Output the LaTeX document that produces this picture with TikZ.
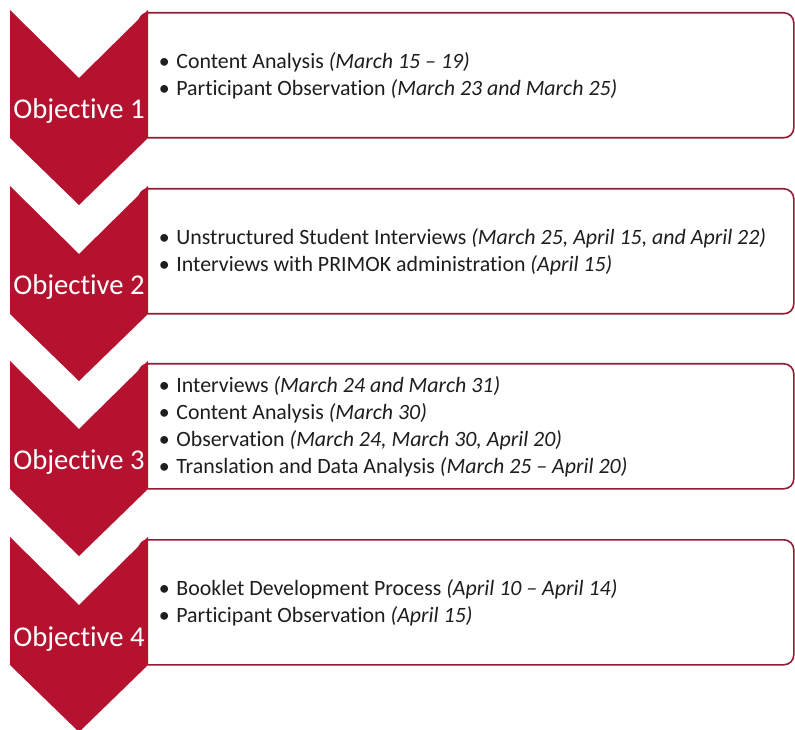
\documentclass[tikz,border=0pt]{standalone}
\usepackage{fontspec}
\setmainfont{Carlito}[Ligatures={TeX,NoCommon}]
\usepackage{xcolor}
\usetikzlibrary{positioning}
\definecolor{chevred}{RGB}{181,18,47}
\definecolor{boxline}{RGB}{145,30,55}
\definecolor{listtext}{RGB}{30,30,30}
\newcommand{\task}[2]{\textbullet\hspace{0.3em}#1 \textit{(#2)}}

\begin{document}
\begin{tikzpicture}[x=0.75pt,y=-0.75pt,
            chevron/.style={fill=chevred},
            box/.style={draw=boxline,line width=1.2pt,rounded corners=7.5pt,fill=white,
                minimum width=491.25pt,minimum height=93.75pt,anchor=north west,inner sep=0pt},
            objlabel/.style={text=white,font=\fontsize{21.5pt}{25pt}\selectfont,anchor=base},
            tasklist/.style={text=listtext,font=\fontsize{16.4pt}{20.25pt}\selectfont,
                align=left,inner sep=0pt,anchor=west}]
            \useasboundingbox (0,0) rectangle (795,730);

            % Objective 1
            \node[box] (box1) at (138,12) {};
            \fill[chevron] (10,10) -- (79,78) -- (148,10) -- (148,138) -- (79,205) -- (10,138) -- cycle;
            \node[objlabel] (obj1) at (79,119) {Objective 1};
            \node[tasklist, right=15.5pt of box1.west] (list1)
                {\task{Content Analysis}{March 15 -- 19}\\
                 \task{Participant Observation}{March 23 and March 25}};

            % Objective 2
            \node[box] (box2) at (138,188) {};
            \fill[chevron] (10,186) -- (79,254) -- (148,186) -- (148,314) -- (79,381) -- (10,314) -- cycle;
            \node[objlabel] (obj2) at (79,295) {Objective 2};
            \node[tasklist, right=15.5pt of box2.west] (list2)
                {\task{Unstructured Student Interviews}{March 25, April 15, and April 22}\\
                 \task{Interviews with PRIMOK administration}{April 15}};

            % Objective 3
            \node[box] (box3) at (138,363) {};
            \fill[chevron] (10,361) -- (79,429) -- (148,361) -- (148,489) -- (79,556) -- (10,489) -- cycle;
            \node[objlabel] (obj3) at (79,469) {Objective 3};
            \node[tasklist, right=15.5pt of box3.west] (list3)
                {\task{Interviews}{March 24 and March 31}\\
                 \task{Content Analysis}{March 30}\\
                 \task{Observation}{March 24, March 30, April 20}\\
                 \task{Translation and Data Analysis}{March 25 -- April 20}};

            % Objective 4
            \node[box] (box4) at (138,539) {};
            \fill[chevron] (10,537) -- (79,605) -- (148,537) -- (148,665) -- (79,732) -- (10,665) -- cycle;
            \node[objlabel] (obj4) at (79,646) {Objective 4};
            \node[tasklist, right=15.5pt of box4.west] (list4)
                {\task{Booklet Development Process}{April 10 -- April 14}\\
                 \task{Participant Observation}{April 15}};

        \end{tikzpicture}
\end{document}
